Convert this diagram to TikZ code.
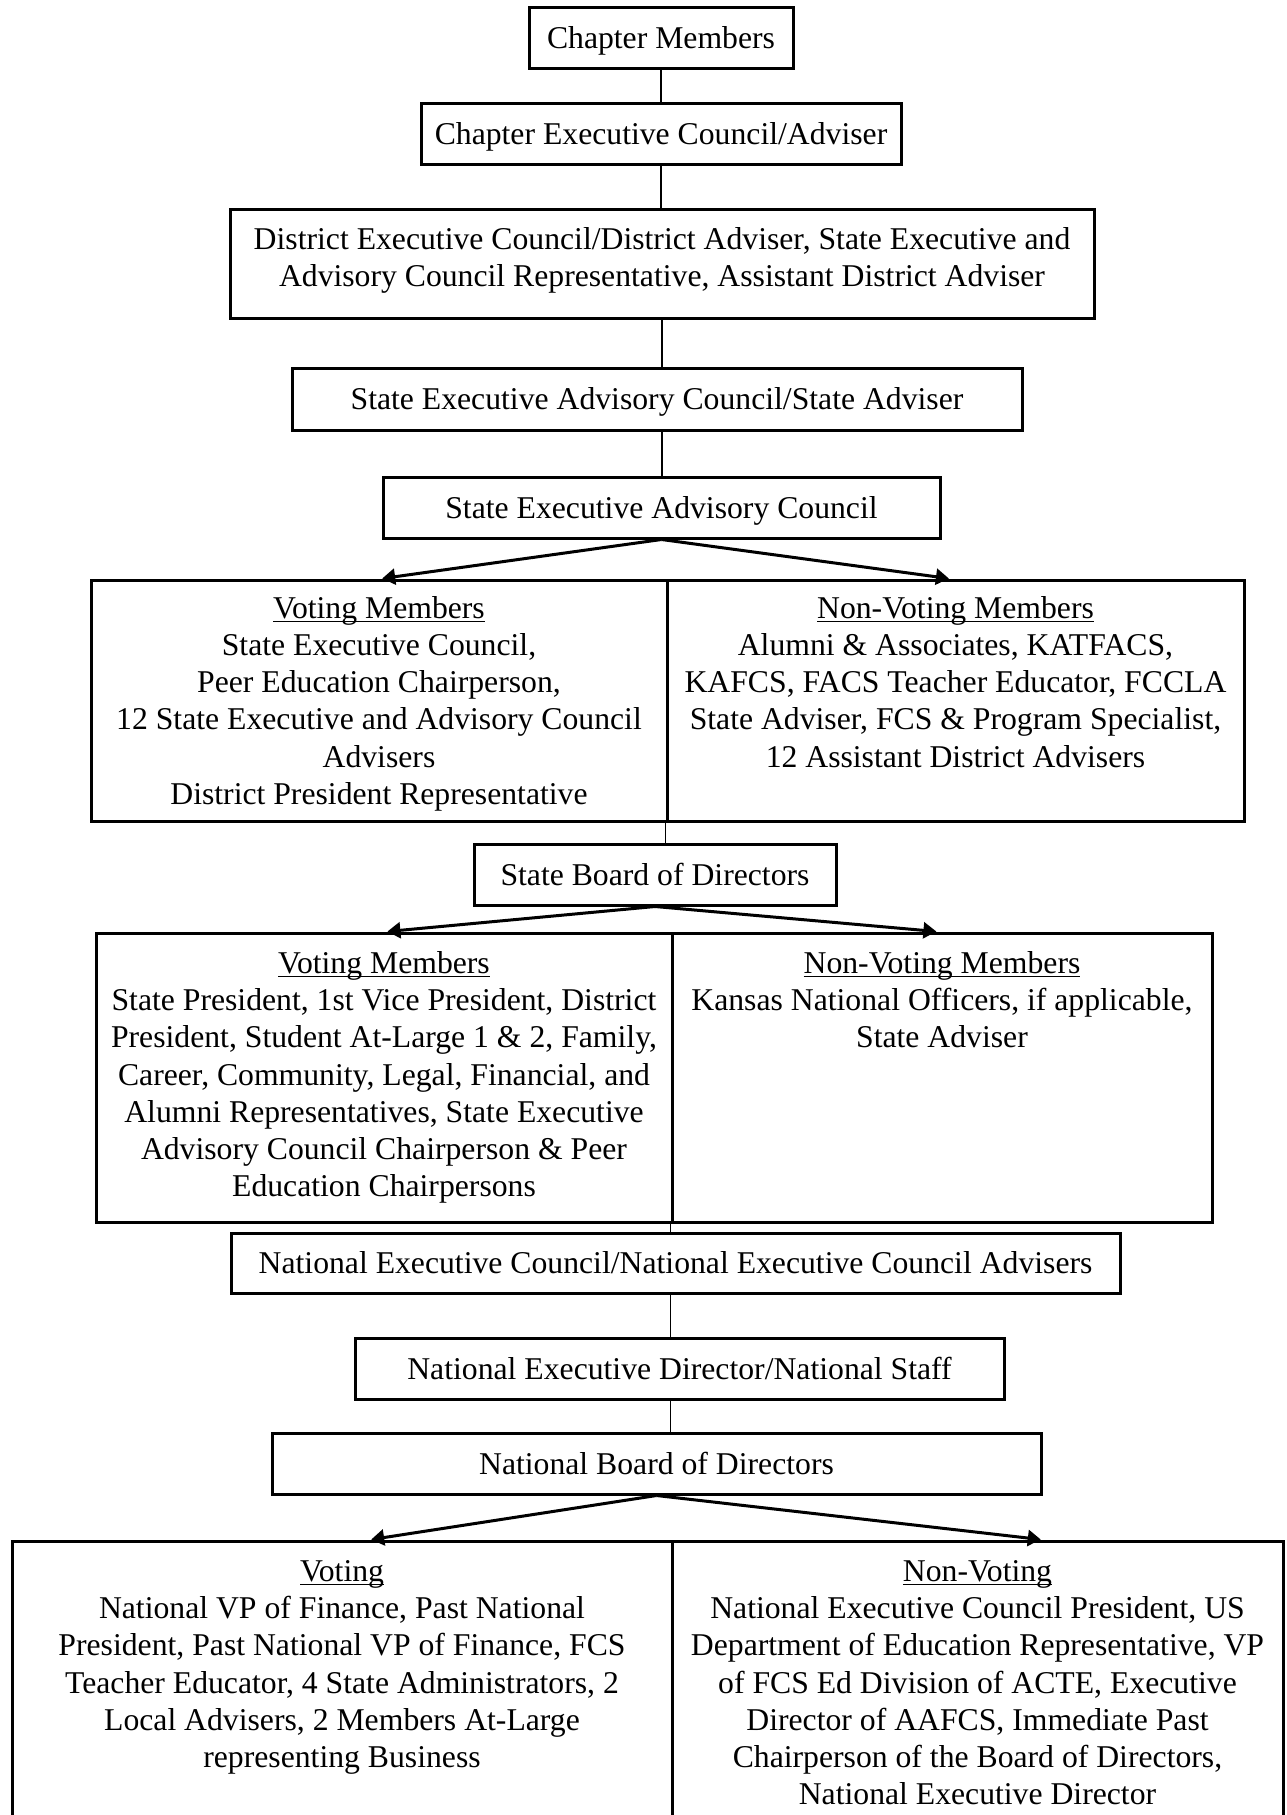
\documentclass[tikz,border=0pt]{standalone}
\usepackage{fontspec}
\setmainfont{Liberation Serif}
\usetikzlibrary{arrows.meta,calc}
\newcommand{\hdr}[1]{\underline{\smash{#1}}\vphantom{#1}}
\begin{document}
\begin{tikzpicture}[x=0.5pt,y=-0.5pt,
 box/.style={draw,line width=1.5pt,inner sep=0pt,align=center,font=\fontsize{15.85pt}{18.5pt}\selectfont},
 one/.style={text height=13.9pt,text depth=3.4pt},
 txt/.style={inner sep=0pt,align=center,anchor=north,font=\fontsize{15.85pt}{18.6pt}\selectfont},
 link/.style={line width=0.85pt},
 arr/.style={line width=1.5pt,-{Triangle[width=8pt,length=6.5pt]}}]
\useasboundingbox (0,0) rectangle (1286,1815);
\fill[white] (0,0) rectangle (1286,1815);
% single boxes
\node[box,one,minimum width=132pt,minimum height=30.5pt] (cm) at (661,37.5) {Chapter Members};
\node[box,one,minimum width=240pt,minimum height=30.5pt] (cec) at (661,133.5) {Chapter Executive Council/Adviser};
\node[box,text depth=6.9pt,minimum width=432pt,minimum height=54.5pt] (dec) at (662,263.5) {District Executive Council/District Adviser, State Executive and\\Advisory Council Representative, Assistant District Adviser};
\node[box,one,minimum width=365pt,minimum height=31pt] (sea) at (657,399) {State Executive Advisory Council/State Adviser};
\node[box,one,minimum width=278.5pt,minimum height=30.5pt] (sac) at (661.5,507.5) {State Executive Advisory Council};
% box 1
\node[box,minimum width=288pt,minimum height=120.5pt] (v1l) at (379,700.5) {};
\node[box,minimum width=288.5pt,minimum height=120.5pt] (v1r) at (955.5,700.5) {};
\node[txt] (v1lt) at ([yshift=-8.65pt]v1l.north) {\hdr{Voting Members}\\State Executive Council,\\Peer Education Chairperson,\\12 State Executive and Advisory Council\\Advisers\\District President Representative};
\node[txt] (v1rt) at ([yshift=-8.65pt]v1r.north) {\hdr{Non-Voting Members}\\Alumni \& Associates, KATFACS,\\KAFCS, FACS Teacher Educator, FCCLA\\State Adviser, FCS \& Program Specialist,\\12 Assistant District Advisers};
\node[box,one,minimum width=181pt,minimum height=30.5pt] (sbd) at (655,874.5) {State Board of Directors};
% box 2
\node[box,minimum width=288pt,minimum height=144.5pt] (v2l) at (384,1077.5) {};
\node[box,minimum width=270pt,minimum height=144.5pt] (v2r) at (942,1077.5) {};
\node[txt] (v2lt) at ([yshift=-9.8pt]v2l.north) {\hdr{Voting Members}\\State President, 1st Vice President, District\\President, Student At-Large 1 \& 2, Family,\\Career, Community, Legal, Financial, and\\Alumni Representatives, State Executive\\Advisory Council Chairperson \& Peer\\Education Chairpersons};
\node[txt] (v2rt) at ([yshift=-9.8pt]v2r.north) {\hdr{Non-Voting Members}\\Kansas National Officers, if applicable,\\State Adviser};
\node[box,one,minimum width=444.5pt,minimum height=30pt] (nec) at (675.5,1263) {National Executive Council/National Executive Council Advisers};
\node[box,one,minimum width=324.5pt,minimum height=30.5pt] (ned) at (679.5,1368.5) {National Executive Director/National Staff};
\node[box,one,minimum width=384.5pt,minimum height=30.5pt] (nbd) at (656.5,1463.5) {National Board of Directors};
% box 3
\node[box,minimum width=330pt,minimum height=144.5pt] (v3l) at (342,1685.5) {};
\node[box,minimum width=305.5pt,minimum height=144.5pt] (v3r) at (977.5,1685.5) {};
\node[txt] (v3lt) at ([yshift=-10.3pt]v3l.north) {\hdr{Voting}\\National VP of Finance, Past National\\President, Past National VP of Finance, FCS\\Teacher Educator, 4 State Administrators, 2\\Local Advisers, 2 Members At-Large\\representing Business};
\node[txt] (v3rt) at ([yshift=-10.3pt]v3r.north) {\hdr{Non-Voting}\\National Executive Council President, US\\Department of Education Representative, VP\\of FCS Ed Division of ACTE, Executive\\Director of AAFCS, Immediate Past\\Chairperson of the Board of Directors,\\National Executive Director};
% connectors
\draw[link] (cm.south) -- (cm.south |- cec.north);
\draw[link] (cec.south) -- (cec.south |- dec.north);
\draw[link] (dec.south) -- (dec.south |- sea.north);
\draw[link] ([xshift=2.5pt]sea.south) -- ([xshift=2.5pt]sea.south |- sac.north);
\draw[arr] (sac.south) -- ([xshift=1.6pt]v1l.north);
\draw[arr] (sac.south) -- ([xshift=-3.3pt]v1r.north);
\draw[link] (v1r.south west) -- (v1r.south west |- sbd.north);
\draw[arr] (sbd.south) -- ([xshift=1.7pt]v2l.north);
\draw[arr] (sbd.south) -- ([xshift=-2.8pt]v2r.north);
\draw[link] (v2r.south west) -- (v2r.south west |- nec.north);
\draw[link] (v2r.south west |- nec.south) -- (v2r.south west |- ned.north);
\draw[link] (v2r.south west |- ned.south) -- (v2r.south west |- nbd.north);
\draw[arr] (nbd.south) -- ([xshift=14.6pt]v3l.north);
\draw[arr] (nbd.south) -- ([xshift=31.65pt]v3r.north);
\end{tikzpicture}
\end{document}
